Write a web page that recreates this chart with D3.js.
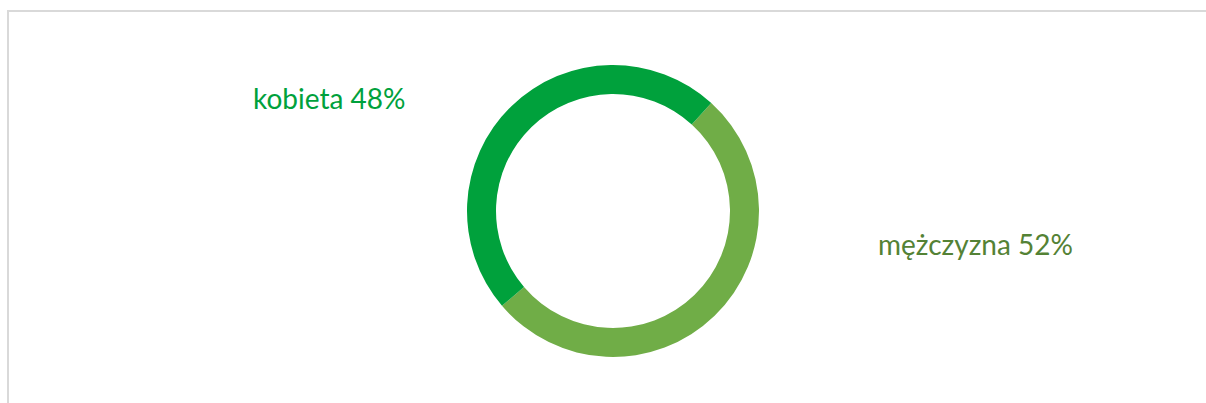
<!DOCTYPE html>
<html>
<head>
<meta charset="utf-8">
<script src="https://cdn.jsdelivr.net/npm/d3@7"></script>
<style>
  body { margin: 0; background: #fff; }
  svg { display: block; }
</style>
</head>
<body>
<svg id="chart"></svg>
<script>
// data
const categories = ['mężczyzna', 'kobieta'];
const values = [52, 48];
const arcColors = ['#70ad47', '#00a13c'];
const labelColors = ['#548235', '#00a13c'];

const width = 1206;
const height = 403;
const cx = 613;
const cy = 211;
const outerR = 146;
const innerR = 117;

const svg = d3.select('#chart')
  .attr('width', width)
  .attr('height', height);

// chart area border (top + left visible)
svg.append('line')
  .attr('x1', 7).attr('x2', width)
  .attr('y1', 11).attr('y2', 11)
  .attr('stroke', '#d9d9d9').attr('stroke-width', 2);
svg.append('line')
  .attr('x1', 8).attr('x2', 8)
  .attr('y1', 10).attr('y2', height)
  .attr('stroke', '#d9d9d9').attr('stroke-width', 2);

const data = categories.map((c, i) => ({ name: c, value: values[i] }));

// first slice rotated ~42 degrees, like the spreadsheet original
const rotation = 42.3 * Math.PI / 180;
const pie = d3.pie()
  .sort(null)
  .value((d) => d.value)
  .startAngle(rotation)
  .endAngle(rotation + 2 * Math.PI);

const arc = d3.arc()
  .innerRadius(innerR)
  .outerRadius(outerR);

const g = svg.append('g')
  .attr('transform', `translate(${cx},${cy})`);

g.selectAll('path')
  .data(pie(data))
  .join('path')
  .attr('d', arc)
  .attr('fill', (d, i) => arcColors[i]);

// labels
const labelPos = [
  { x: 878, y: 255 },
  { x: 253, y: 109 },
];
svg.selectAll('.label')
  .data(data)
  .join('text')
  .attr('class', 'label')
  .attr('x', (d, i) => labelPos[i].x)
  .attr('y', (d, i) => labelPos[i].y)
  .attr('fill', (d, i) => labelColors[i])
  .attr('font-family', 'Lato, "Open Sans", sans-serif')
  .attr('font-size', 28)
  .text((d) => `${d.name} ${d.value}%`);
</script>
</body>
</html>
